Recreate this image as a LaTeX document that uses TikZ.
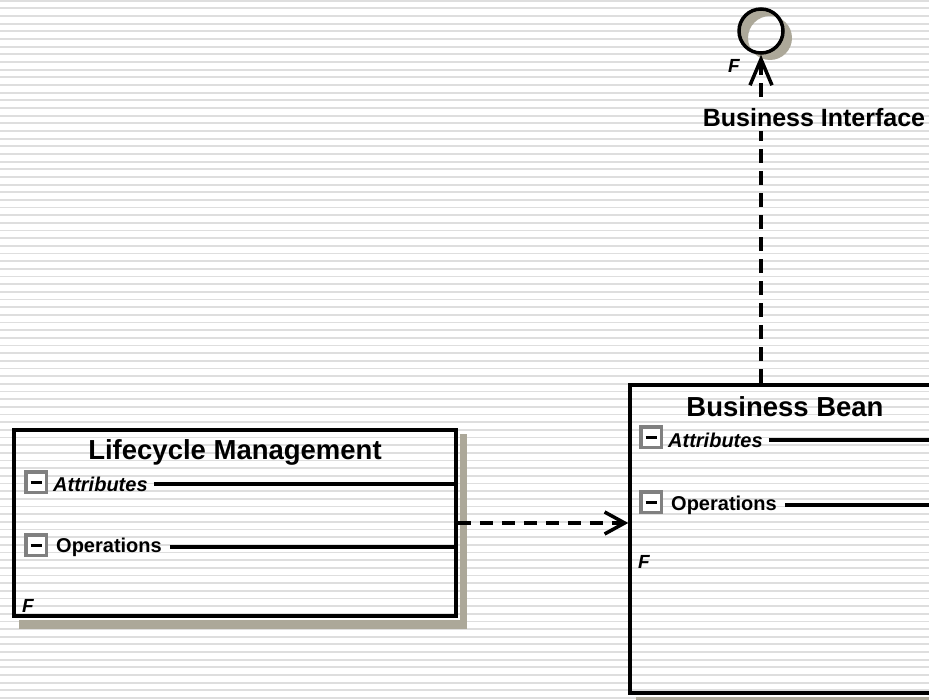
\documentclass[tikz,border=0pt]{standalone}
\usepackage{fontspec}
\setmainfont{Liberation Sans}
\usetikzlibrary{arrows.meta,calc}
\definecolor{stripec}{RGB}{222,222,222}
\definecolor{shadowc}{RGB}{172,168,153}
\definecolor{iconc}{RGB}{128,128,128}
\tikzset{
  boxst/.style={draw=black,line width=3.5pt,inner sep=0pt},
  titlest/.style={inner sep=0pt,font=\fontsize{27.5}{30}\selectfont\bfseries},
  rowtxt/.style={inner sep=0pt,anchor=west,font=\fontsize{20}{22}\selectfont\bfseries},
  rowital/.style={rowtxt,font=\fontsize{20}{22}\selectfont\bfseries\itshape},
  markst/.style={inner sep=0pt,font=\fontsize{19}{20}\selectfont\bfseries\itshape},
  iconst/.style={draw=iconc,line width=3.5pt,fill=white,minimum size=20.5pt,inner sep=0pt,
    path picture={\draw[black,line width=3pt] ([xshift=-5.5pt]path picture bounding box.center) -- ([xshift=5.5pt]path picture bounding box.center);}},
  compline/.style={line width=4pt},
  depend/.style={line width=4pt,dash pattern=on 13pt off 9pt,-{Straight Barb[length=20pt,width=22pt,line width=3.5pt]}},
  realize/.style={line width=4pt,dash pattern=on 14pt off 8pt,-{Straight Barb[length=26pt,width=22pt,line width=3.5pt]}},
  lblst/.style={inner sep=0pt,font=\fontsize{25}{27}\selectfont\bfseries},
  circst/.style={circle,draw=black,line width=3.5pt,minimum size=44pt,inner sep=0pt}
}
\begin{document}
\begin{tikzpicture}[x=1pt,y=-1pt]
\useasboundingbox (0,0) rectangle (929,700);
\clip (0,0) rectangle (929,700);
\fill[white] (0,0) rectangle (929,700);
% background stripes
\foreach \i in {0,...,92}{
  \draw[stripec,line width=1.8pt] (0,{0.7+\i*7.663}) -- (929,{0.7+\i*7.663});
}
% ---------- Lifecycle Management ----------
\node[boxst,minimum width=442pt,minimum height=186pt] (lm) at (235,523) {};
\fill[shadowc] ($(lm.north east)+(1.75,6)$) rectangle ($(lm.south east)+(9,11)$);
\fill[shadowc] ($(lm.south west)+(7,1.75)$) rectangle ($(lm.south east)+(9,11)$);
\node[titlest] (lmt) at (235,452) {Lifecycle Management};
\node[iconst] (lmai) at (36,482) {};
\node[rowital] (lmat) at (53,484) {Attributes};
\draw[compline] ([xshift=6pt]lmat.east) -- (lmat.east -| lm.east);
\node[iconst] (lmoi) at (36,545) {};
\node[rowtxt] (lmot) at (56,547) {Operations};
\draw[compline] ([xshift=8pt]lmot.east) -- (lmot.east -| lm.east);
\node[markst] (lmf) at (28,606) {F};
% ---------- Business Bean ----------
\node[boxst,minimum width=310pt,minimum height=308pt] (bb) at (785,539) {};
\fill[shadowc] ($(bb.south west)+(8,1.75)$) rectangle ($(bb.south east)+(10,9)$);
\node[titlest] (bbt) at (785,407) {Business Bean};
\node[iconst] (bbai) at (651,437) {};
\node[rowital] (bbat) at (668,440) {Attributes};
\draw[compline] ([xshift=6pt]bbat.east) -- (bbat.east -| bb.east);
\node[iconst] (bboi) at (651,502) {};
\node[rowtxt] (bbot) at (671,505) {Operations};
\draw[compline] ([xshift=8pt]bbot.east) -- (bbot.east -| bb.east);
\node[markst] (bbf) at (644,562) {F};
% ---------- Business Interface ----------
\fill[shadowc,even odd rule] (770,38) circle[radius=22pt] (761,31) circle[radius=22pt];
\node[circst] (bi) at (761,31) {};
\node[markst] (bif) at (734,66) {F};
% ---------- connectors ----------
\draw[depend] (lm.east) -- (lm.east -| bb.west);
\draw[realize] (bb.north -| bi.south) -- (bi.south);
% label of the realization
\fill[white] (700,105) rectangle (928,131);
\begin{scope}
  \clip (700,105) rectangle (928,131);
  \foreach \i in {13,...,17}{
    \draw[stripec,line width=1.8pt] (700,{0.7+\i*7.663}) -- (929,{0.7+\i*7.663});
  }
\end{scope}
\node[lblst] (bil) at (814,118) {Business Interface};
\end{tikzpicture}
\end{document}
